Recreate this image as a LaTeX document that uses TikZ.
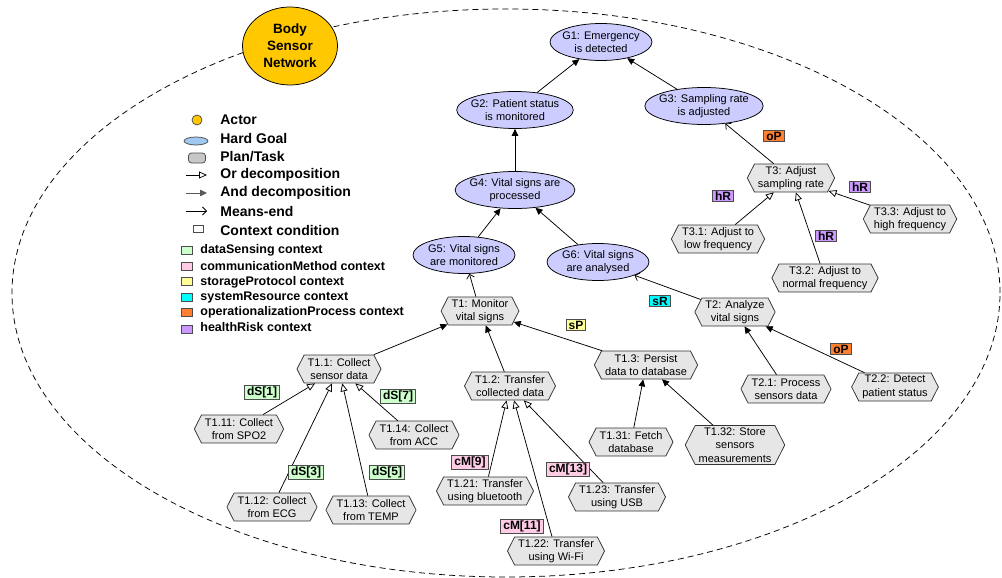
\documentclass[tikz,border=0pt]{standalone}
\usepackage{fontspec}
\setmainfont{Liberation Sans}
\usetikzlibrary{shapes.geometric, shapes.symbols, arrows.meta}

\definecolor{goalblue}{RGB}{204,204,255}
\definecolor{taskgrey}{RGB}{230,230,230}
\definecolor{actorgold}{RGB}{255,200,0}
\definecolor{dsgreen}{RGB}{204,255,204}
\definecolor{cmpink}{RGB}{255,204,230}
\definecolor{spyellow}{RGB}{255,255,153}
\definecolor{srcyan}{RGB}{0,255,255}
\definecolor{oporange}{RGB}{255,128,48}
\definecolor{hrpurple}{RGB}{204,153,255}
\definecolor{legendblue}{RGB}{160,200,240}

\tikzstyle{actor} = [ellipse, draw=black, fill=actorgold, minimum width=95, minimum height=78, align=center, font=\bfseries\fontsize{13.5}{17}\selectfont]
\tikzstyle{goal} = [ellipse, draw=black, fill=goalblue, align=center, inner xsep=-3pt, inner ysep=0pt, minimum width=102, minimum height=37, font=\fontsize{11}{13.5}\selectfont]
\tikzstyle{task} = [signal, signal to=east and west, signal pointer angle=126, draw=black!80, fill=taskgrey, align=center, inner xsep=3.5pt, inner ysep=2pt, minimum height=28, font=\fontsize{11}{13.5}\selectfont]
\tikzstyle{ctx} = [rectangle, draw=black!70, inner xsep=2.5pt, inner ysep=1.5pt, font=\bfseries\fontsize{12}{13}\selectfont]
\tikzstyle{legend} = [anchor=west, inner sep=0pt, font=\bfseries\fontsize{14}{16}\selectfont]
\tikzstyle{ctxlegend} = [anchor=west, inner sep=0pt, font=\bfseries\fontsize{12.5}{14}\selectfont]
\tikzstyle{ctxkey} = [rectangle, draw=black!70, minimum width=11, minimum height=8, inner sep=0pt]
\tikzstyle{andarrow} = [-{Triangle[length=7pt,width=6.5pt]}]
\tikzstyle{orarrow} = [-{Triangle[open,length=8pt,width=7pt]}]
\tikzstyle{meansarrow} = [-{Straight Barb[length=4pt,width=8pt]}]

\begin{document}
\begin{tikzpicture}[x=1pt, y=-1pt, line width=0.75pt]
\useasboundingbox (0,0) rectangle (1002,578);

% actor boundary
\node (boundary) [ellipse, draw=black, dash pattern=on 6pt off 4pt, minimum width=988, minimum height=568, inner sep=0pt] at (506,293) {};
\node (bsn) [actor] at (290,46) {Body\\Sensor\\Network};

% legend
\node (lactor) [circle, draw=black!70, fill=actorgold, minimum size=10, inner sep=0pt] at (197,120) {};
\node (tactor) [legend] at (220,120) {Actor};
\node (lgoal) [ellipse, draw=black!70, fill=legendblue, minimum width=24, minimum height=8, inner sep=0pt] at (196,141) {};
\node (tgoal) [legend] at (220,138) {Hard Goal};
\node (ltask) [rectangle, rounded corners=3pt, draw=black!70, fill=black!22, minimum width=17, minimum height=10, inner sep=0pt] at (197,158) {};
\node (ttask) [legend] at (220,157) {Plan/Task};
\coordinate (lor0) at (186,175);
\coordinate (lor1) at (207,175);
\draw [orarrow] (lor0) -- (lor1);
\node (tor) [legend] at (220,175) {Or decomposition};
\coordinate (land0) at (186,193);
\coordinate (land1) at (207,193);
\draw [andarrow, draw=black!65, fill=black] (land0) -- (land1);
\node (tand) [legend] at (220,193) {And decomposition};
\coordinate (lme0) at (186,211);
\coordinate (lme1) at (207,211);
\draw [meansarrow] (lme0) -- (lme1);
\node (tme) [legend] at (220,211) {Means-end};
\node (lcond) [rectangle, draw=black!70, fill=white, minimum width=10, minimum height=7, inner sep=0pt] at (198,229) {};
\node (tcond) [legend] at (220,230) {Context condition};

\node (kds) [ctxkey, fill=dsgreen] at (187,250) {};
\node (tds) [ctxlegend] at (200,250) {dataSensing context};
\node (kcm) [ctxkey, fill=cmpink] at (187,266) {};
\node (tcm) [ctxlegend] at (200,266) {communicationMethod context};
\node (ksp) [ctxkey, fill=spyellow] at (187,281) {};
\node (tsp) [ctxlegend] at (200,282) {storageProtocol context};
\node (ksr) [ctxkey, fill=srcyan] at (187,297) {};
\node (tsr) [ctxlegend] at (200,297) {systemResource context};
\node (kop) [ctxkey, fill=oporange] at (187,312) {};
\node (top) [ctxlegend] at (200,312) {operationalizationProcess context};
\node (khr) [ctxkey, fill=hrpurple] at (187,329) {};
\node (thr) [ctxlegend] at (200,327) {healthRisk context};

% goals
\node (g1) [goal] at (601,42) {G1: Emergency\\is detected};
\node (g2) [goal] at (515,110) {G2: Patient status\\is monitored};
\node (g3) [goal] at (704,106) {G3: Sampling rate\\is adjusted};
\node (g4) [goal] at (515,190) {G4: Vital signs are\\processed};
\node (g5) [goal] at (464,255) {G5: Vital signs\\are monitored};
\node (g6) [goal] at (598,262) {G6: Vital signs\\are analysed};

% tasks
\node (t1) [task] at (480,311) {T1: Monitor\\vital signs};
\node (t11) [task] at (339,369) {T1.1: Collect\\sensor data};
\node (t12) [task] at (510,386) {T1.2: Transfer\\collected data};
\node (t13) [task] at (646,365) {T1.3: Persist\\data to database};
\node (t111) [task] at (239,429) {T1.11: Collect\\from SPO2};
\node (t112) [task] at (272,507) {T1.12: Collect\\from ECG};
\node (t113) [task] at (371,510) {T1.13: Collect\\from TEMP};
\node (t114) [task] at (414,435) {T1.14: Collect\\from ACC};
\node (t121) [task] at (485,491) {T1.21: Transfer\\using bluetooth};
\node (t122) [task] at (556,551) {T1.22: Transfer\\using Wi-Fi};
\node (t123) [task] at (617,497) {T1.23: Transfer\\using USB};
\node (t131) [task] at (631,442) {T1.31: Fetch\\database};
\node (t132) [task] at (735,445) {T1.32: Store\\sensors\\measurements};
\node (t2) [task] at (735,312) {T2: Analyze\\vital signs};
\node (t21) [task] at (786,389) {T2.1: Process\\sensors data};
\node (t22) [task] at (895,387) {T2.2: Detect\\patient status};
\node (t3) [task] at (791,178) {T3: Adjust\\sampling rate};
\node (t31) [task] at (718,239) {T3.1: Adjust to\\low frequency};
\node (t32) [task] at (825,278) {T3.2: Adjust to\\normal frequency};
\node (t33) [task] at (910,219) {T3.3: Adjust to\\high frequency};

% links
\draw [andarrow] (g2) -- (g1);
\draw [andarrow] (g3) -- (g1);
\draw [andarrow] (g4) -- (g2);
\draw [andarrow] (g5) -- (g4);
\draw [andarrow] (g6) -- (g4);
\draw [meansarrow] (t1) -- (g5);
\draw [meansarrow] (t2) -- (g6);
\draw [meansarrow] (t3) -- (g3);
\draw [orarrow] (t31) -- (t3);
\draw [orarrow] (t32) -- (t3);
\draw [orarrow] (t33) -- (t3);
\draw [andarrow] (t11) -- (t1);
\draw [andarrow] (t12) -- (t1);
\draw [andarrow] (t13) -- (t1);
\draw [orarrow] (t111) -- (t11);
\draw [orarrow] (t112) -- (t11);
\draw [orarrow] (t113) -- (t11);
\draw [orarrow] (t114) -- (t11);
\draw [orarrow] (t121) -- (t12);
\draw [orarrow] (t122) -- (t12);
\draw [orarrow] (t123) -- (t12);
\draw [andarrow] (t131) -- (t13);
\draw [andarrow] (t132) -- (t13);
\draw [andarrow] (t21) -- (t2);
\draw [andarrow] (t22) -- (t2);

% context conditions
\node (op1) [ctx, fill=oporange] at (774,136) {oP};
\node (hr1) [ctx, fill=hrpurple] at (723,196) {hR};
\node (hr3) [ctx, fill=hrpurple] at (860,187) {hR};
\node (hr2) [ctx, fill=hrpurple] at (826,236) {hR};
\node (sr) [ctx, fill=srcyan] at (660,301) {sR};
\node (sp) [ctx, fill=spyellow] at (576,325) {sP};
\node (op2) [ctx, fill=oporange] at (841,349) {oP};
\node (ds1) [ctx, fill=dsgreen] at (262,392) {dS[1]};
\node (ds7) [ctx, fill=dsgreen] at (398,396) {dS[7]};
\node (ds3) [ctx, fill=dsgreen] at (306,472) {dS[3]};
\node (ds5) [ctx, fill=dsgreen] at (387,472) {dS[5]};
\node (cm9) [ctx, fill=cmpink] at (470,462) {cM[9]};
\node (cm13) [ctx, fill=cmpink] at (568,469) {cM[13]};
\node (cm11) [ctx, fill=cmpink] at (522,526) {cM[11]};

\end{tikzpicture}
\end{document}
